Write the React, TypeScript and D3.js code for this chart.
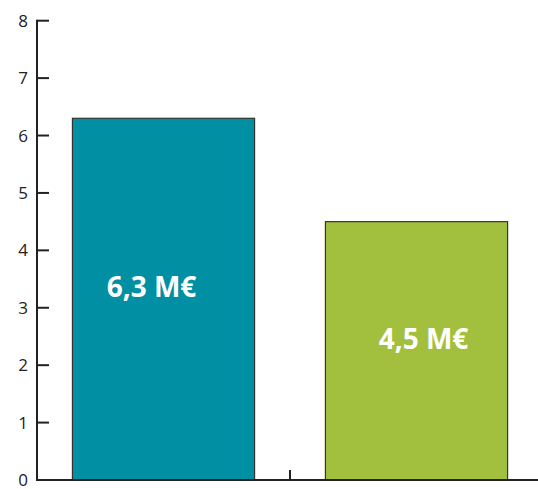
import React from "react";
import * as d3 from "d3";

const categories = ["A", "B"];
const values = [6.3, 4.5];
const labels = ["6,3 M€", "4,5 M€"];
const colors = ["#008fa3", "#a2c03e"];
const yTicks = [0, 1, 2, 3, 4, 5, 6, 7, 8];
const labelDx = [-12, 7];

const W = 538;
const H = 489;

export default function App() {
  const x = d3
    .scaleBand<string>()
    .domain(categories)
    .range([37, 543])
    .paddingInner(0.28)
    .paddingOuter(0.14);
  const y = d3.scaleLinear().domain([0, 8]).range([480, 20.7]);
  const axisColor = "#222";
  return (
    <svg
      width={W}
      height={H}
      style={{ position: "absolute", left: 0, top: 0, background: "#fff" }}
    >
      {categories.map((c, i) => (
        <rect
          key={c}
          x={x(c)!}
          y={y(values[i])}
          width={x.bandwidth()}
          height={y(0) - y(values[i])}
          fill={colors[i]}
          stroke="#333"
          strokeWidth={1.2}
        />
      ))}
      {categories.map((c, i) => (
        <text
          key={c + "l"}
          x={x(c)! + x.bandwidth() / 2 + labelDx[i]}
          y={y(values[i] / 2) - 2}
          textAnchor="middle"
          fill="#fff"
          fontFamily="'Open Sans', sans-serif"
          fontWeight={700}
          fontSize={28}
        >
          {labels[i]}
        </text>
      ))}
      {/* y axis */}
      <line x1={37} x2={37} y1={y(8) - 1} y2={y(0) + 1} stroke={axisColor} strokeWidth={2} />
      {yTicks.map((t) => (
        <g key={t}>
          <line x1={37} x2={49} y1={y(t)} y2={y(t)} stroke={axisColor} strokeWidth={2} />
          <text
            x={28}
            y={y(t)}
            dy="0.36em"
            textAnchor="end"
            fill="#222"
            fontFamily="'Open Sans', sans-serif"
            fontSize={17}
          >
            {t}
          </text>
        </g>
      ))}
      {/* x axis */}
      <line x1={36} x2={W} y1={y(0)} y2={y(0)} stroke={axisColor} strokeWidth={2} />
      <line
        x1={x("B")! - (x.step() - x.bandwidth()) / 2}
        x2={x("B")! - (x.step() - x.bandwidth()) / 2}
        y1={y(0)}
        y2={y(0) - 10}
        stroke={axisColor}
        strokeWidth={2}
      />
    </svg>
  );
}
